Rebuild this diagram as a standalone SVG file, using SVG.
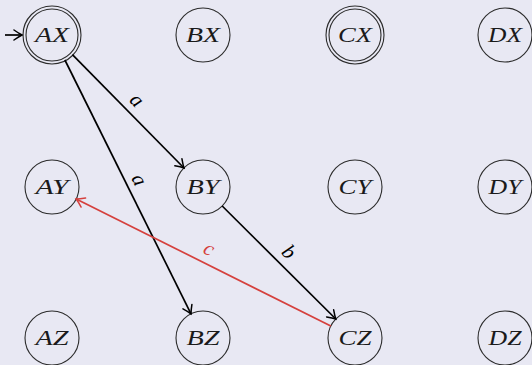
<svg xmlns="http://www.w3.org/2000/svg" width="532" height="365" viewBox="0 0 532 365">
<style>
.st circle{fill:none;stroke:#2b2b2b;stroke-width:1.1}
.st text{font-family:"Liberation Serif","DejaVu Serif",serif;font-style:italic;font-size:21px;fill:#1a1a1a;text-anchor:middle}
.e{fill:none;stroke:#000;stroke-width:1.7;marker-end:url(#ah)}
.er{fill:none;stroke:#d5403d;stroke-width:1.7;marker-end:url(#ahr)}
.lb{font-family:"Liberation Serif","DejaVu Serif",serif;font-style:italic;font-size:21px;text-anchor:middle}
</style>
<defs>
<marker id="ah" markerUnits="userSpaceOnUse" viewBox="-10 -6 12 12" refX="0" refY="0" markerWidth="12" markerHeight="12" orient="auto">
<path d="M-8,-5 Q-3,-1.5 0,0 Q-3,1.5 -8,5" fill="none" stroke="#000" stroke-width="1.5" stroke-linecap="round"/>
</marker>
<marker id="ahr" markerUnits="userSpaceOnUse" viewBox="-10 -6 12 12" refX="0" refY="0" markerWidth="12" markerHeight="12" orient="auto">
<path d="M-8,-5 Q-3,-1.5 0,0 Q-3,1.5 -8,5" fill="none" stroke="#d5403d" stroke-width="1.5" stroke-linecap="round"/>
</marker>
</defs>
<rect width="532" height="365" fill="#e8e8f3"/>
<g id="AX" class="st"><circle cx="52" cy="35" r="29"/><circle cx="52" cy="35" r="26"/><text x="52" y="42" textLength="34" lengthAdjust="spacingAndGlyphs">AX</text></g>
<g id="BX" class="st"><circle cx="203" cy="35" r="27"/><text x="203" y="42" textLength="34" lengthAdjust="spacingAndGlyphs">BX</text></g>
<g id="CX" class="st"><circle cx="355" cy="35" r="29"/><circle cx="355" cy="35" r="26"/><text x="355" y="42" textLength="34" lengthAdjust="spacingAndGlyphs">CX</text></g>
<g id="DX" class="st"><circle cx="505" cy="35" r="27"/><text x="505" y="42" textLength="34" lengthAdjust="spacingAndGlyphs">DX</text></g>
<g id="AY" class="st"><circle cx="52" cy="187" r="27"/><text x="52" y="194" textLength="33" lengthAdjust="spacingAndGlyphs">AY</text></g>
<g id="BY" class="st"><circle cx="203" cy="187" r="27"/><text x="203" y="194" textLength="33" lengthAdjust="spacingAndGlyphs">BY</text></g>
<g id="CY" class="st"><circle cx="355" cy="187" r="27"/><text x="355" y="194" textLength="33" lengthAdjust="spacingAndGlyphs">CY</text></g>
<g id="DY" class="st"><circle cx="505" cy="187" r="27"/><text x="505" y="194" textLength="33" lengthAdjust="spacingAndGlyphs">DY</text></g>
<g id="AZ" class="st"><circle cx="52" cy="338" r="27"/><text x="52" y="345" textLength="33" lengthAdjust="spacingAndGlyphs">AZ</text></g>
<g id="BZ" class="st"><circle cx="203" cy="338" r="27"/><text x="203" y="345" textLength="33" lengthAdjust="spacingAndGlyphs">BZ</text></g>
<g id="CZ" class="st"><circle cx="355" cy="338" r="27"/><text x="355" y="345" textLength="33" lengthAdjust="spacingAndGlyphs">CZ</text></g>
<g id="DZ" class="st"><circle cx="505" cy="338" r="27"/><text x="505" y="345" textLength="33" lengthAdjust="spacingAndGlyphs">DZ</text></g>
<g id="edges">
<path class="e" d="M5,35 L22,35"/>
<path class="e" d="M72.4,54.6 L184,168"/>
<text class="lb" transform="translate(135,102) rotate(45)" y="4">a</text>
<path class="e" d="M64.9,60 L191,313.8"/>
<text class="lb" transform="translate(137,181) rotate(63.6)" y="4">a</text>
<path class="e" d="M222.2,206 L335.8,319"/>
<text class="lb" transform="translate(287,254) rotate(45)" y="4">b</text>
<path class="er" d="M330.8,326 L76.2,199"/>
<text class="lb" fill="#d5403d" transform="translate(208,251) rotate(26.5)" y="4">c</text>
</g>
</svg>
